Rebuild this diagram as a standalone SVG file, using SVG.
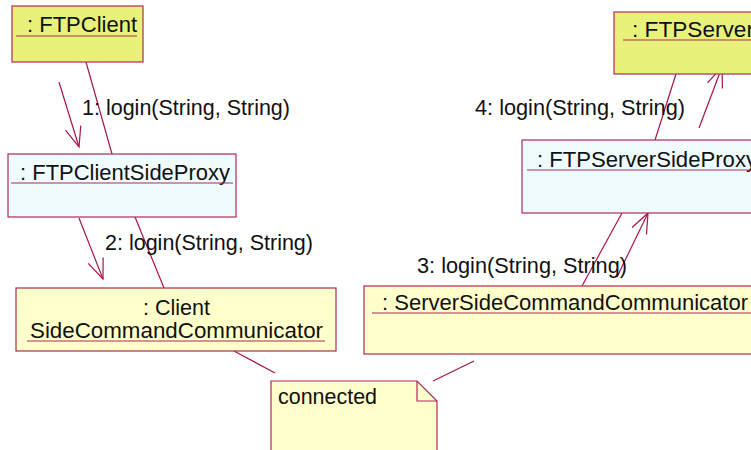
<svg xmlns="http://www.w3.org/2000/svg" width="751" height="450" viewBox="0 0 751 450">
<style>
  text { font-family: "Liberation Sans", Arial, sans-serif; font-size: 21.5px; fill: #111; }
  .box { stroke: #B0285A; stroke-width: 1.2; }
  .ul { stroke: #B0285A; stroke-width: 1.2; }
  .yellow { fill: #E8F27B; }
  .cyan { fill: #EFFBFD; }
  .pale { fill: #FFFFCC; }
  .ln { stroke: #A8144A; stroke-width: 1.2; fill: none; }
</style>
<defs>
  <marker id="open" markerUnits="userSpaceOnUse" markerWidth="30" markerHeight="30" viewBox="-25 -15 30 30" refX="0" refY="0" orient="auto">
    <path d="M-20,-8 L0,0 L-20,8" fill="none" stroke="#A8144A" stroke-width="1.2"/>
  </marker>
</defs>
<rect width="751" height="450" fill="#fff"/>

<g id="connectors">
  <line class="ln" x1="86" y1="62" x2="112" y2="154"/>
  <line class="ln" x1="59" y1="82" x2="79" y2="147" marker-end="url(#open)"/>
  <text x="82" y="115" textLength="208" lengthAdjust="spacingAndGlyphs">1: login(String, String)</text>

  <line class="ln" x1="135" y1="217" x2="164" y2="288"/>
  <line class="ln" x1="79" y1="218" x2="103" y2="279" marker-end="url(#open)"/>
  <text x="105" y="250" textLength="208" lengthAdjust="spacingAndGlyphs">2: login(String, String)</text>

  <line class="ln" x1="582" y1="286" x2="622" y2="213"/>
  <line class="ln" x1="617" y1="277" x2="648" y2="213" marker-end="url(#open)"/>
  <text x="417" y="273" textLength="210" lengthAdjust="spacingAndGlyphs">3: login(String, String)</text>

  <line class="ln" x1="676" y1="74" x2="655" y2="140"/>
  <line class="ln" x1="699" y1="128" x2="722" y2="67" marker-end="url(#open)"/>
  <text x="475" y="115" textLength="210" lengthAdjust="spacingAndGlyphs">4: login(String, String)</text>

  <line class="ln" x1="234" y1="351" x2="275" y2="373"/>
  <line class="ln" x1="433" y1="381" x2="474" y2="361"/>
</g>

<g id="ftpclient">
  <rect class="box yellow" x="12" y="6" width="131" height="56"/>
  <text x="27" y="32" textLength="110" lengthAdjust="spacingAndGlyphs">: FTPClient</text>
  <line class="ul" x1="16" y1="36" x2="137" y2="36"/>
</g>

<g id="ftpclientsideproxy">
  <rect class="box cyan" x="8" y="154" width="228" height="63"/>
  <text x="20" y="180" textLength="210" lengthAdjust="spacingAndGlyphs">: FTPClientSideProxy</text>
  <line class="ul" x1="11" y1="183" x2="233" y2="183"/>
</g>

<g id="clientsidecommandcommunicator">
  <rect class="box pale" x="16" y="288" width="320" height="63"/>
  <text x="143" y="315" textLength="67" lengthAdjust="spacingAndGlyphs">: Client</text>
  <text x="30" y="338" textLength="293" lengthAdjust="spacingAndGlyphs">SideCommandCommunicator</text>
  <line class="ul" x1="27" y1="341" x2="325" y2="341"/>
</g>

<g id="serversidecommandcommunicator">
  <rect class="box pale" x="364" y="286" width="400" height="68"/>
  <text x="382" y="310" textLength="366" lengthAdjust="spacingAndGlyphs">: ServerSideCommandCommunicator</text>
  <line class="ul" x1="372" y1="313" x2="764" y2="313"/>
</g>

<g id="ftpserversideproxy">
  <rect class="box cyan" x="522" y="140" width="240" height="73"/>
  <text x="537" y="167" textLength="220" lengthAdjust="spacingAndGlyphs">: FTPServerSideProxy</text>
  <line class="ul" x1="527" y1="170" x2="762" y2="170"/>
</g>

<g id="ftpserver">
  <rect class="box yellow" x="614" y="12" width="150" height="62"/>
  <text x="632" y="37" textLength="122" lengthAdjust="spacingAndGlyphs">: FTPServer</text>
  <line class="ul" x1="623" y1="40" x2="764" y2="40"/>
</g>

<g id="note">
  <path class="box pale" d="M271,381 H417 L437,401 V460 H271 Z"/>
  <path class="box" fill="none" d="M417,381 V401 H437"/>
  <text x="278" y="404" textLength="99" lengthAdjust="spacingAndGlyphs">connected</text>
</g>
</svg>
